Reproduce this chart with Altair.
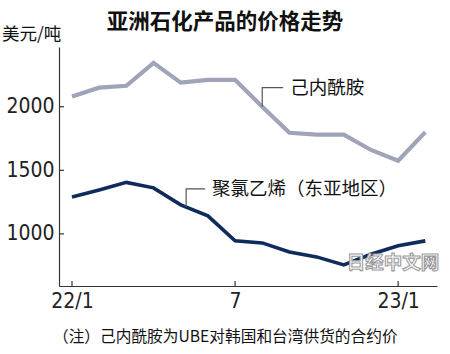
import altair as alt
import pandas as pd

# --- data -------------------------------------------------------------
month_index = list(range(14))  # 2022/1 .. 2023/2
caprolactam = [2080, 2150, 2165, 2345, 2190, 2212, 2212, 2000, 1795, 1780, 1780, 1660, 1575, 1800]
pvc = [1290, 1345, 1405, 1362, 1228, 1142, 945, 929, 858, 819, 756, 840, 906, 945]
series_names = ["己内酰胺", "聚氯乙烯（东亚地区）"]
x_ticks = [0, 6, 12]
x_tick_labels = ["22/1", "7", "23/1"]
y_ticks = [1000, 1500, 2000]

title_text = "亚洲石化产品的价格走势"
unit_text = "美元/吨"
note_text = "（注）己内酰胺为UBE对韩国和台湾供货的合约价"
watermark_text = "日经中文网"

# leader-line annotations (data space)
cap_leader = {"x": [7, 7, 7.77], "y": [2000, 2150, 2150]}
pvc_leader = {"x": [4.2, 4.2, 4.9], "y": [1211, 1354, 1354]}
label_pos = [(8.03, 2150), (5.15, 1354)]

CJK = "Noto Sans CJK SC"
NUM = "Liberation Sans Narrow, DejaVu Sans Condensed, Roboto Condensed, Liberation Sans, sans-serif"
GRAY = "#a0a4b9"
NAVY = "#0e2b5c"

df = pd.DataFrame({
    "m": month_index * 2,
    "v": caprolactam + pvc,
    "s": [series_names[0]] * 14 + [series_names[1]] * 14,
})

xs = alt.Scale(domain=[-0.478, 13.43], nice=False, zero=False)
ys = alt.Scale(domain=[590, 2470], nice=False, zero=False)

label_expr = "{" + ",".join(f"'{p}':'{l}'" for p, l in zip(x_ticks, x_tick_labels)) + "}[datum.value]"

base_axes = alt.Chart(pd.DataFrame({"m": [0], "v": [1000]})).mark_point(opacity=0).encode(
    x=alt.X("m:Q", scale=xs, axis=alt.Axis(values=x_ticks, labelExpr=label_expr, ticks=False, grid=False,
                                          domainColor="#333", domainWidth=1.2, labelFont=NUM,
                                          labelFontSize=21, labelColor="#222", labelPadding=4, title=None)),
    y=alt.Y("v:Q", scale=ys, axis=alt.Axis(values=y_ticks, format="d", ticks=False, grid=False,
                                          domainColor="#333", domainWidth=1.2, labelFont=NUM,
                                          labelFontSize=21, labelColor="#222", labelPadding=5, title=None)),
)

ytick = alt.Chart(pd.DataFrame({"v": y_ticks})).mark_rule(color="#333", strokeWidth=1.2).encode(
    y=alt.Y("v:Q", scale=ys), x=alt.value(0), x2=alt.value(5))
xtick = alt.Chart(pd.DataFrame({"m": x_ticks})).mark_rule(color="#333", strokeWidth=1.2).encode(
    x=alt.X("m:Q", scale=xs), y=alt.value(239), y2=alt.value(234))

lines = alt.Chart(df).mark_line(strokeJoin="miter").encode(
    x=alt.X("m:Q", scale=xs),
    y=alt.Y("v:Q", scale=ys),
    color=alt.Color("s:N", scale=alt.Scale(domain=series_names, range=[GRAY, NAVY]), legend=None),
    strokeWidth=alt.StrokeWidth("s:N", scale=alt.Scale(domain=series_names, range=[4.2, 3.6]), legend=None),
)

lead_df = pd.DataFrame({
    "x": cap_leader["x"] + pvc_leader["x"],
    "y": cap_leader["y"] + pvc_leader["y"],
    "g": ["a"] * 3 + ["b"] * 3,
    "o": [0, 1, 2] * 2,
})
leaders = alt.Chart(lead_df).mark_line(color="#555", strokeWidth=1.2).encode(
    x=alt.X("x:Q", scale=xs), y=alt.Y("y:Q", scale=ys), detail="g:N", order="o:Q")

lab_df = pd.DataFrame({"x": [p[0] for p in label_pos], "y": [p[1] for p in label_pos], "t": series_names})
labels = alt.Chart(lab_df).mark_text(align="left", baseline="middle", font=CJK, fontSize=18.5, color="#111").encode(
    x=alt.X("x:Q", scale=xs), y=alt.Y("y:Q", scale=ys), text="t:N")

watermark = alt.Chart(pd.DataFrame({"t": [watermark_text]})).mark_text(
    align="center", baseline="middle", font=CJK, fontSize=18.5, fontWeight="bold",
    fill="white", stroke="#9a9a9a", strokeWidth=1.1).encode(
    x=alt.value(334), y=alt.value(216), text="t:N")

title = alt.Chart(pd.DataFrame({"t": [title_text]})).mark_text(
    align="center", baseline="middle", font=CJK, fontSize=21.5, fontWeight="bold", color="#111").encode(
    x=alt.value(166), y=alt.value(-24), text="t:N")
unit = alt.Chart(pd.DataFrame({"t": [unit_text]})).mark_text(
    align="left", baseline="middle", font=CJK, fontSize=17.5, color="#111").encode(
    x=alt.value(-57), y=alt.value(-12), text="t:N")
note = alt.Chart(pd.DataFrame({"t": [note_text]})).mark_text(
    align="left", baseline="middle", font=CJK, fontSize=15.7, color="#111").encode(
    x=alt.value(-6), y=alt.value(290), text="t:N")

chart = alt.layer(base_axes, ytick, xtick, lines, leaders, labels, watermark, title, unit, note).properties(
    width=378, height=239,
    padding={"left": 59, "top": 47, "right": 13, "bottom": 68},
    autosize="none",
    background="white",
).configure_view(stroke=None)

chart.save("out.html", embed_options={"renderer": "svg", "actions": False})
